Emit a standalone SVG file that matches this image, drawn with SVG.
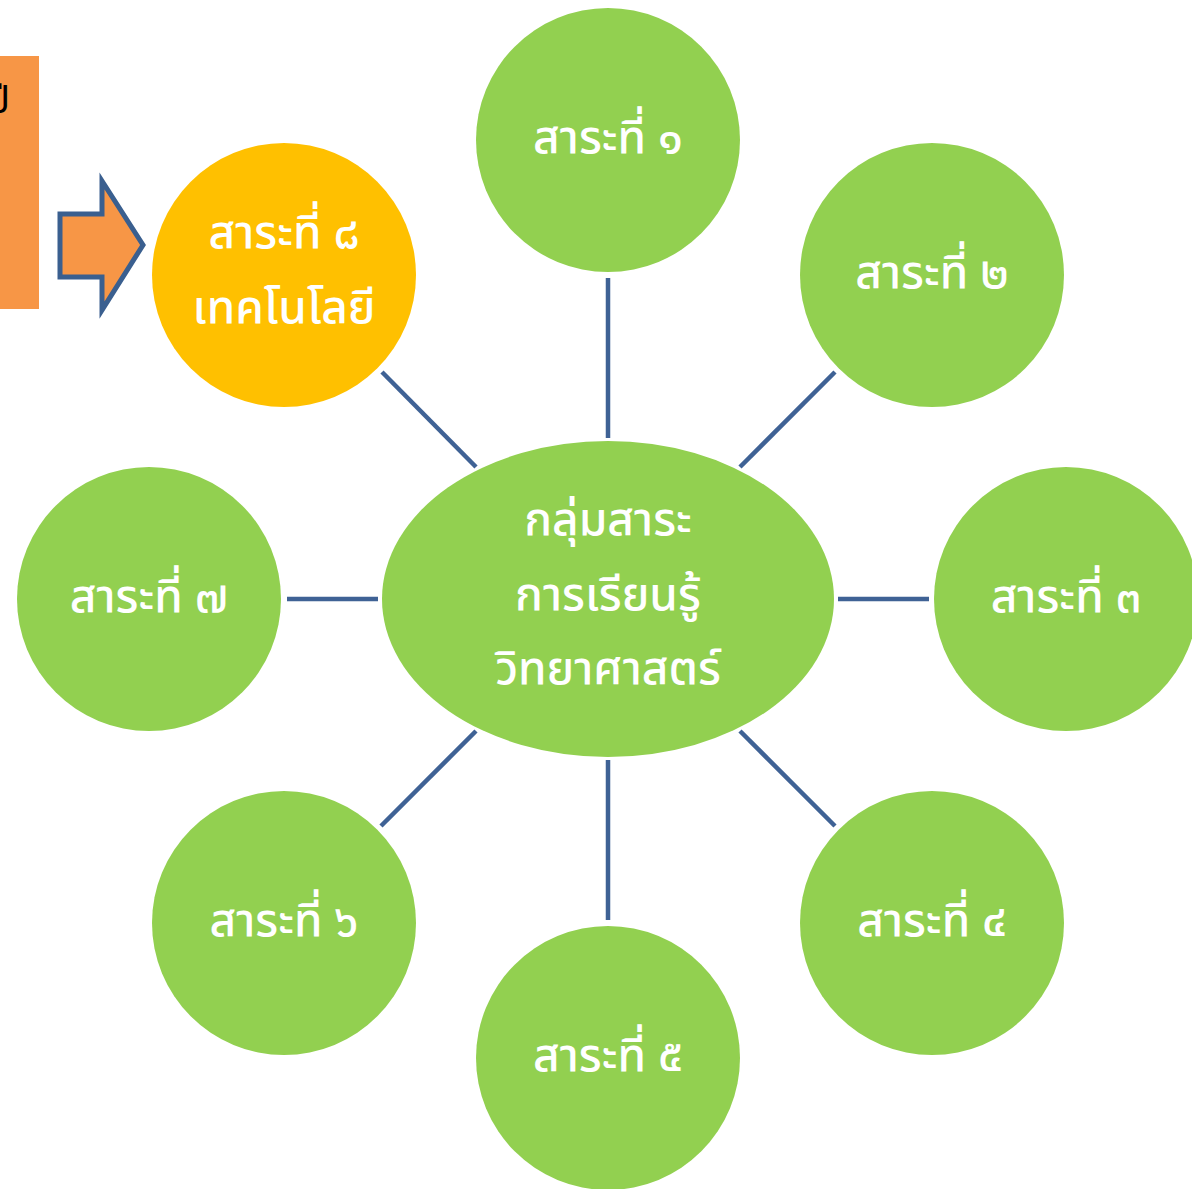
<svg xmlns="http://www.w3.org/2000/svg" width="1192" height="1189" viewBox="0 0 1192 1189">
<style>
.g{fill:#92D050}
.t{fill:#fff;font-family:"Noto Sans Thai","Noto Sans","DejaVu Sans",sans-serif;font-size:46px;font-weight:500;text-anchor:middle}
.c{stroke:#3F6295;stroke-width:4.5;fill:none}
</style>
<rect width="1192" height="1189" fill="#fff"/>
<g id="sidebox">
<rect x="0" y="56" width="39" height="253" fill="#F79646"/>
<text x="10" y="113" font-family="'Noto Sans Thai','Noto Sans',sans-serif" font-size="38" text-anchor="end" fill="#000">ปี</text>
</g>
<g id="arrow">
<path d="M60,214 H102 V181 L143,245 L102,310 V277 H60 Z" fill="#F79646" stroke="#3A5F8F" stroke-width="5"/>
</g>
<g id="connectors">
<line class="c" x1="608" y1="278" x2="608" y2="438"/>
<line class="c" x1="608" y1="760" x2="608" y2="920"/>
<line class="c" x1="287" y1="599" x2="378" y2="599"/>
<line class="c" x1="838" y1="599" x2="929" y2="599"/>
<line class="c" x1="835" y1="372" x2="740" y2="467"/>
<line class="c" x1="382" y1="372" x2="476" y2="467"/>
<line class="c" x1="476" y1="731" x2="381" y2="826"/>
<line class="c" x1="740" y1="731" x2="835" y2="826"/>
</g>
<g id="center">
<ellipse class="g" cx="608" cy="599" rx="226" ry="158"/>
<text class="t" x="608" y="535">กลุ่มสาระ</text>
<text class="t" x="608" y="610">การเรียนรู้</text>
<text class="t" x="608" y="684">วิทยาศาสตร์</text>
</g>
<g id="n1"><circle class="g" cx="608" cy="140" r="132"/><text class="t" x="608" y="153">สาระที่ ๑</text></g>
<g id="n2"><circle class="g" cx="932" cy="275" r="132"/><text class="t" x="932" y="288">สาระที่ ๒</text></g>
<g id="n3"><circle class="g" cx="1066" cy="599" r="132"/><text class="t" x="1066" y="612">สาระที่ ๓</text></g>
<g id="n4"><circle class="g" cx="932" cy="923" r="132"/><text class="t" x="932" y="936">สาระที่ ๔</text></g>
<g id="n5"><circle class="g" cx="608" cy="1058" r="132"/><text class="t" x="608" y="1071">สาระที่ ๕</text></g>
<g id="n6"><circle class="g" cx="284" cy="923" r="132"/><text class="t" x="284" y="936">สาระที่ ๖</text></g>
<g id="n7"><circle class="g" cx="149" cy="599" r="132"/><text class="t" x="149" y="612">สาระที่ ๗</text></g>
<g id="n8"><circle cx="284" cy="275" r="132" fill="#FFC000"/><text class="t" x="284" y="248">สาระที่ ๘</text><text class="t" x="284" y="323">เทคโนโลยี</text></g>
</svg>
